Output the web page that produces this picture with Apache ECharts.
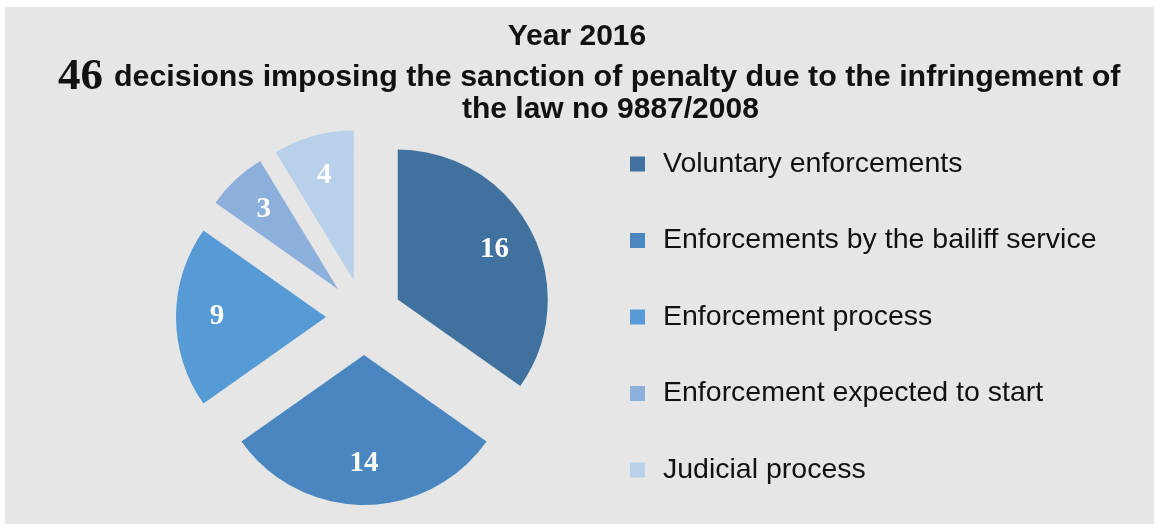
<!DOCTYPE html>
<html>
<head>
<meta charset="utf-8">
<script src="https://cdn.jsdelivr.net/npm/echarts@6/dist/echarts.min.js"></script>
<style>
  html, body { margin: 0; padding: 0; background: #ffffff; }
  #chart { width: 1154px; height: 524px; }
</style>
</head>
<body>
<div id="chart"></div>
<script>
// Outcome of the 2016 penalty decisions
const categories = [
  'Voluntary enforcements',
  'Enforcements by the bailiff service',
  'Enforcement process',
  'Enforcement expected to start',
  'Judicial process'
];
const decisions = [16, 14, 9, 3, 4];
const sliceColors = ['#41729f', '#4a87c0', '#569ad6', '#8cafdc', '#b9d0ea'];
const totalDecisions = 46;

const sansFont = '"Liberation Sans", Arial, sans-serif';
const serifFont = '"Liberation Serif", "Times New Roman", serif';

const sliceData = categories.map((name, i) => ({
  name: name,
  value: decisions[i],
  selected: true,
  itemStyle: { color: sliceColors[i] }
}));

const labelData = categories.map((name, i) => ({
  name: name,
  value: decisions[i],
  selected: true
}));

const chart = echarts.init(document.getElementById('chart'), null, { renderer: 'canvas' });

chart.setOption({
  backgroundColor: '#ffffff',
  animation: false,
  graphic: [{
    type: 'rect',
    z: -10,
    silent: true,
    shape: { x: 5, y: 7, width: 1149, height: 517 },
    style: { fill: '#e6e6e6' }
  }],
  title: [
    {
      text: 'Year 2016',
      left: 'center',
      top: 17,
      textStyle: { fontFamily: sansFont, fontWeight: 'bold', fontSize: 30, color: '#111111' }
    },
    {
      text: '{n|' + totalDecisions + '}{t|decisions imposing the sanction of penalty due to the infringement of}',
      left: 53,
      top: 50,
      textStyle: {
        rich: {
          n: { fontFamily: serifFont, fontWeight: 'bold', fontSize: 45, color: '#111111', padding: [0, 11, 0, 0] },
          t: { fontFamily: sansFont, fontWeight: 'bold', fontSize: 30.4, color: '#111111' }
        }
      }
    },
    {
      text: 'the law no 9887/2008',
      left: 457,
      top: 90,
      textStyle: { fontFamily: sansFont, fontWeight: 'bold', fontSize: 30, color: '#111111' }
    }
  ],
  legend: {
    orient: 'vertical',
    left: 625,
    top: 144,
    icon: 'rect',
    itemWidth: 15,
    itemHeight: 15,
    itemGap: 46.5,
    selectedMode: false,
    data: categories,
    textStyle: { fontFamily: sansFont, fontSize: 28.5, color: '#111111', lineHeight: 30, padding: [0, 0, 0, 13] }
  },
  series: [
    {
      type: 'pie',
      center: [364, 317],
      radius: 150,
      startAngle: 90,
      clockwise: true,
      selectedMode: 'multiple',
      selectedOffset: 38,
      silent: true,
      label: { show: false },
      labelLine: { show: false },
      emphasis: { disabled: true },
      data: sliceData
    },
    {
      // transparent twin that carries the value labels further out along each slice
      type: 'pie',
      center: [364, 317],
      radius: [0, 212],
      startAngle: 90,
      clockwise: true,
      selectedMode: 'multiple',
      selectedOffset: 38,
      silent: true,
      itemStyle: { color: 'rgba(0,0,0,0)' },
      label: {
        show: true,
        position: 'inside',
        formatter: '{c}',
        fontFamily: serifFont,
        fontWeight: 'bold',
        fontSize: 29,
        color: '#ffffff'
      },
      labelLine: { show: false },
      emphasis: { disabled: true },
      data: labelData
    }
  ]
});
</script>
</body>
</html>
